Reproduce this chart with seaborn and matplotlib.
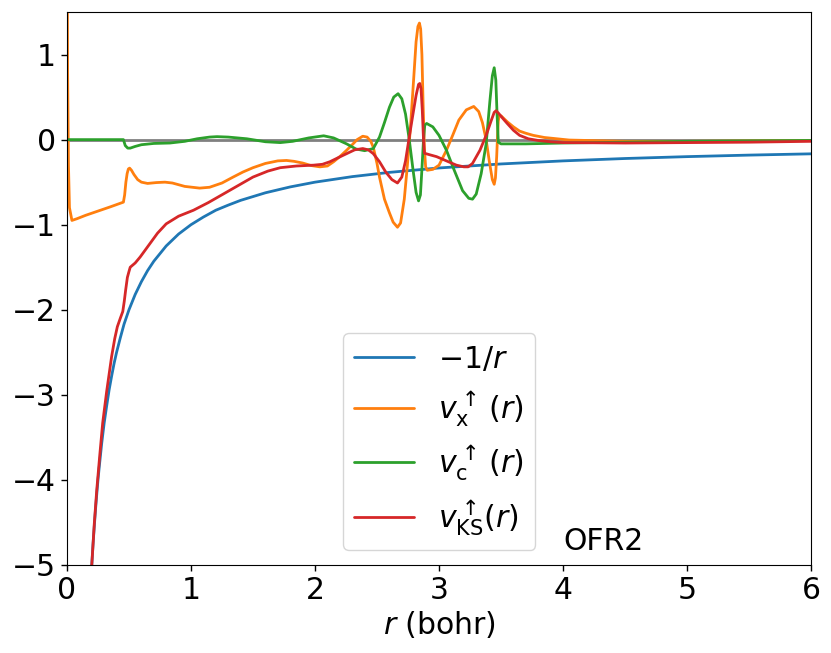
import numpy as np
import matplotlib
matplotlib.use("Agg")
import matplotlib.pyplot as plt
import seaborn as sns

# (r, value) pairs

# -1/r
coul_pts = [(0.19, -5.26), (0.2, -5.0), (0.21, -4.76), (0.22, -4.55), (0.23, -4.35),
            (0.24, -4.17), (0.25, -4.0), (0.26, -3.85), (0.28, -3.57), (0.3, -3.33),
            (0.32, -3.13), (0.34, -2.94), (0.36, -2.78), (0.38, -2.63), (0.4, -2.5),
            (0.43, -2.33), (0.46, -2.17), (0.5, -2.0), (0.55, -1.82), (0.6, -1.67),
            (0.65, -1.54), (0.7, -1.43), (0.8, -1.25), (0.9, -1.11), (1.0, -1.0),
            (1.1, -0.91), (1.2, -0.83), (1.3, -0.77), (1.4, -0.714), (1.6, -0.625),
            (1.8, -0.556), (2.0, -0.5), (2.3, -0.435), (2.6, -0.385), (3.0, -0.333),
            (3.5, -0.286), (4.0, -0.25), (4.5, -0.222), (5.0, -0.2), (5.5, -0.182),
            (6.0, -0.167)]

# exchange potential
x_pts = [(0.0, 3.0), (0.005, 0.8), (0.012, -0.3), (0.02, -0.8), (0.04, -0.95),
         (0.08, -0.93), (0.15, -0.89), (0.25, -0.84), (0.35, -0.79), (0.455, -0.735),
         (0.465, -0.65), (0.475, -0.5), (0.485, -0.4), (0.495, -0.345), (0.505, -0.335),
         (0.52, -0.36), (0.54, -0.41), (0.57, -0.47), (0.6, -0.5), (0.65, -0.515),
         (0.72, -0.505), (0.79, -0.5), (0.85, -0.51), (0.95, -0.55), (1.07, -0.57),
         (1.15, -0.56), (1.25, -0.51), (1.34, -0.44), (1.42, -0.38), (1.5, -0.33),
         (1.6, -0.28), (1.7, -0.25), (1.77, -0.245), (1.83, -0.255), (1.9, -0.275),
         (1.97, -0.305), (2.04, -0.32), (2.1, -0.31), (2.15, -0.26), (2.2, -0.2),
         (2.255, -0.125), (2.3, -0.06), (2.34, 0.0), (2.385, 0.04), (2.42, 0.03),
         (2.45, -0.02), (2.47, -0.09), (2.5, -0.28), (2.52, -0.44), (2.56, -0.7),
         (2.6, -0.86), (2.63, -0.97), (2.665, -1.03), (2.69, -0.98), (2.72, -0.7),
         (2.745, -0.3), (2.77, 0.15), (2.795, 0.7), (2.815, 1.15), (2.83, 1.33),
         (2.842, 1.37), (2.852, 1.3), (2.862, 1.0), (2.872, 0.4), (2.882, -0.1),
         (2.892, -0.32), (2.905, -0.36), (2.95, -0.35), (3.0, -0.3), (3.06, -0.125),
         (3.11, 0.05), (3.16, 0.23), (3.22, 0.35), (3.28, 0.39), (3.32, 0.33),
         (3.35, 0.2), (3.38, 0.0), (3.405, -0.25), (3.43, -0.47), (3.445, -0.525),
         (3.455, -0.45), (3.465, -0.2), (3.472, 0.05), (3.478, 0.22), (3.485, 0.28),
         (3.5, 0.28), (3.55, 0.21), (3.6, 0.15), (3.65, 0.1), (3.7, 0.075),
         (3.76, 0.05), (3.85, 0.025), (3.95, 0.01), (4.05, -0.005), (4.5, -0.02),
         (5.0, -0.02), (5.5, -0.015), (6.0, -0.01)]

# correlation potential
c_pts = [(0.0, 0.0), (0.455, 0.0), (0.47, -0.07), (0.49, -0.1), (0.51, -0.1),
         (0.55, -0.08), (0.6, -0.06), (0.7, -0.045), (0.83, -0.04), (0.95, -0.02),
         (1.05, 0.01), (1.15, 0.03), (1.21, 0.035), (1.3, 0.03), (1.45, 0.01),
         (1.6, -0.025), (1.72, -0.035), (1.82, -0.02), (1.95, 0.02), (2.07, 0.045),
         (2.15, 0.02), (2.255, -0.05), (2.33, -0.11), (2.4, -0.13), (2.47, -0.105),
         (2.52, 0.03), (2.56, 0.2), (2.6, 0.38), (2.635, 0.5), (2.67, 0.54),
         (2.7, 0.48), (2.73, 0.3), (2.76, 0.0), (2.79, -0.35), (2.815, -0.62),
         (2.835, -0.72), (2.85, -0.65), (2.862, -0.35), (2.875, 0.0), (2.885, 0.17),
         (2.9, 0.19), (2.95, 0.15), (3.0, 0.05), (3.06, -0.125), (3.12, -0.35),
         (3.19, -0.6), (3.24, -0.69), (3.27, -0.7), (3.3, -0.64), (3.34, -0.4),
         (3.38, -0.05), (3.41, 0.45), (3.43, 0.75), (3.445, 0.845), (3.458, 0.7),
         (3.468, 0.3), (3.478, -0.03), (3.5, -0.05), (3.7, -0.05), (4.0, -0.04),
         (4.5, -0.03), (5.0, -0.02), (5.5, -0.015), (6.0, -0.01)]

# Kohn-Sham potential
ks_pts = [(0.19, -5.3), (0.2, -5.0), (0.22, -4.52), (0.24, -4.12), (0.265, -3.7),
          (0.288, -3.33), (0.32, -2.96), (0.36, -2.55), (0.385, -2.34), (0.406, -2.2),
          (0.43, -2.1), (0.45, -2.02), (0.462, -1.9), (0.473, -1.77), (0.487, -1.62),
          (0.5, -1.55), (0.51, -1.5), (0.55, -1.45), (0.59, -1.38), (0.63, -1.3),
          (0.67, -1.22), (0.73, -1.1), (0.8, -0.99), (0.9, -0.9), (1.02, -0.83),
          (1.14, -0.74), (1.26, -0.64), (1.38, -0.54), (1.5, -0.44), (1.62, -0.37),
          (1.72, -0.33), (1.85, -0.31), (1.99, -0.3), (2.06, -0.29), (2.12, -0.26),
          (2.19, -0.21), (2.255, -0.165), (2.32, -0.12), (2.385, -0.105), (2.43, -0.12),
          (2.47, -0.165), (2.52, -0.26), (2.57, -0.38), (2.62, -0.47), (2.665, -0.51),
          (2.7, -0.44), (2.73, -0.25), (2.76, 0.03), (2.79, 0.3), (2.815, 0.52),
          (2.835, 0.65), (2.845, 0.66), (2.855, 0.6), (2.865, 0.35), (2.875, 0.0),
          (2.882, -0.16), (2.93, -0.18), (2.98, -0.2), (3.06, -0.25), (3.14, -0.3),
          (3.2, -0.32), (3.235, -0.32), (3.27, -0.28), (3.33, -0.125), (3.38, 0.05),
          (3.42, 0.22), (3.445, 0.32), (3.46, 0.34), (3.48, 0.31), (3.52, 0.24),
          (3.55, 0.19), (3.6, 0.11), (3.65, 0.05), (3.72, 0.01), (3.8, -0.01),
          (3.9, -0.025), (4.0, -0.035), (4.5, -0.04), (5.0, -0.035), (5.5, -0.03),
          (6.0, -0.02)]

labels = [r'$-1/r$', r'$v_{\rm x}^{\uparrow}\,(r)$', r'$v_{\rm c}^{\uparrow}\,(r)$',
          r'$v_{\rm KS}^{\uparrow}(r)$']

sns.set_style('ticks', rc={'axes.edgecolor': 'black', 'xtick.color': 'black',
                           'ytick.color': 'black', 'text.color': 'black',
                           'axes.labelcolor': 'black'})
plt.rcParams['font.family'] = ['DejaVu Sans']
plt.rcParams['mathtext.fontset'] = 'dejavusans'

colors = sns.color_palette('tab10')
fig, ax = plt.subplots(figsize=(8.31, 6.53), dpi=100)
fig.subplots_adjust(left=0.0806, right=0.976, top=0.9816, bottom=0.1348)

ax.axhline(0, color='gray', lw=2, zorder=1)
series = [coul_pts, x_pts, c_pts, ks_pts]
for pts, lab, col in zip(series, labels, colors[:4]):
    arr = np.array(pts)
    sns.lineplot(x=arr[:, 0], y=arr[:, 1], ax=ax, color=col, lw=2, label=lab,
                 estimator=None, sort=False, zorder=2)

fs = 21.5
ax.set_xlim(0, 6)
ax.set_ylim(-5, 1.5)
ax.set_xticks(range(0, 7))
ax.set_yticks(range(-5, 2))
ax.tick_params(labelsize=fs, length=4.5, width=1)
ax.set_xlabel(r'$r$ (bohr)', fontsize=fs, labelpad=3)
ax.text(4.0, -4.82, 'OFR2', fontsize=fs)
ax.legend(loc='lower center', fontsize=fs, handlelength=2.0)

fig.savefig('out.png', dpi=100)
